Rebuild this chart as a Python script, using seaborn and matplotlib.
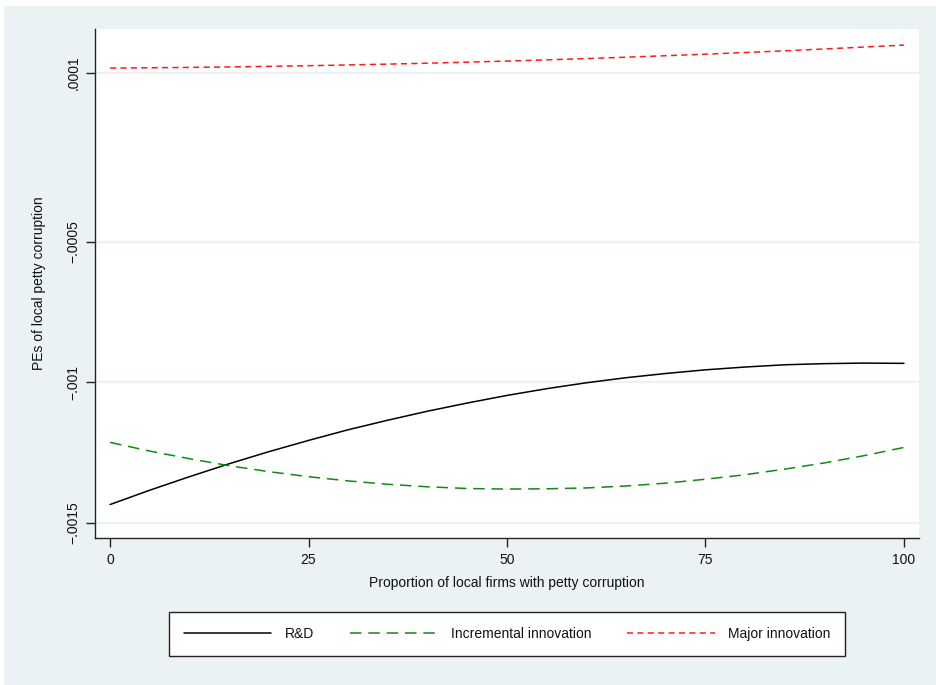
import matplotlib
matplotlib.use("Agg")
import matplotlib.pyplot as plt
import seaborn as sns
import pandas as pd
from matplotlib.patches import Rectangle

# Share of local firms with petty corruption (x axis)
share = [0, 5, 10, 15, 20, 25, 30, 35, 40, 45, 50,
         55, 60, 65, 70, 75, 80, 85, 90, 95, 100]

# Predicted effects of local petty corruption
rd = [-0.001434, -0.001383, -0.001335, -0.001289, -0.001246, -0.001206,
      -0.001168, -0.001134, -0.001102, -0.001073, -0.001046, -0.001022,
      -0.001001, -0.000983, -0.000968, -0.000955, -0.000945, -0.000937,
      -0.000933, -0.000931, -0.000932]
incremental = [-0.001213, -0.001244, -0.001271, -0.001296, -0.001317, -0.001335,
               -0.001350, -0.001362, -0.001371, -0.001377, -0.001379, -0.001378,
               -0.001375, -0.001368, -0.001358, -0.001344, -0.001328, -0.001308,
               -0.001286, -0.001260, -0.001231]
major = [0.0001180, 0.0001191, 0.0001204, 0.0001221, 0.0001242, 0.0001265,
         0.0001292, 0.0001321, 0.0001354, 0.0001391, 0.0001430, 0.0001473,
         0.0001518, 0.0001567, 0.0001620, 0.0001675, 0.0001734, 0.0001795,
         0.0001860, 0.0001929, 0.0001998]

series_names = ["R&D", "Incremental innovation", "Major innovation"]

x_ticks = [0, 25, 50, 75, 100]
y_ticks = [0.0001, -0.0005, -0.001, -0.0015]
y_tick_labels = [".0001", "\u2212.0005", "\u2212.001", "\u2212.0015"]

sns.set_theme(style="white")
plt.rcParams["font.family"] = ["Liberation Sans", "DejaVu Sans"]

bg = "#EAF2F3"
fig = plt.figure(figsize=(9.37, 6.85), dpi=100)
fig.patch.set_facecolor("white")
fig.patches.append(Rectangle((4 / 937, 0), 1 - 4 / 937, 1 - 6 / 685,
                             transform=fig.transFigure, facecolor=bg,
                             edgecolor="none", zorder=-10))

ax = fig.add_axes([95 / 937, 1 - 538 / 685, 824 / 937, 509 / 685])
ax.set_facecolor("white")

df = pd.DataFrame({"share": share, "rd": rd, "inc": incremental, "maj": major})

styles = [
    ("rd", "black", "-", series_names[0]),
    ("inc", "#108A10", (0, (7.5, 4.5)), series_names[1]),
    ("maj", "#FF1A1A", (0, (4, 2.8)), series_names[2]),
]
for col, color, ls, name in styles:
    sns.lineplot(data=df, x="share", y=col, ax=ax, color=color,
                 linestyle=ls, linewidth=1.1, label=name, legend=False)

ax.set_xlim(-1.9, 101.9)
ax.set_ylim(-0.001553, 0.000257)

ax.set_xticks(x_ticks)
ax.set_xticklabels([str(t) for t in x_ticks])
ax.set_yticks(y_ticks)
ax.set_yticklabels(y_tick_labels, rotation=90, va="center")

for t in y_ticks:
    ax.axhline(t, color=bg, linewidth=1.6, zorder=0)

for s in ["top", "right"]:
    ax.spines[s].set_visible(False)
for s in ["left", "bottom"]:
    ax.spines[s].set_color("#222222")
    ax.spines[s].set_linewidth(1.0)

ax.tick_params(axis="both", which="major", direction="out", length=6.5,
               width=1.0, color="#222222", labelsize=10, labelcolor="#111111",
               pad=4, left=True, bottom=True)

ax.set_xlabel("Proportion of local firms with petty corruption", fontsize=10,
              color="#111111", labelpad=7)
ax.set_ylabel("PEs of local petty corruption", fontsize=10, color="#111111",
              labelpad=15)

handles, labels = ax.get_legend_handles_labels()
leg = fig.legend(handles, labels, loc="center", ncol=3,
                 bbox_to_anchor=(507 / 937, 1 - 634 / 685),
                 fontsize=10, frameon=True, fancybox=False,
                 edgecolor="#222222", facecolor="white", framealpha=1,
                 handlelength=6.3, handletextpad=0.95, columnspacing=2.6,
                 borderpad=1.1, borderaxespad=0)
leg.get_frame().set_linewidth(1.0)
for t in leg.get_texts():
    t.set_color("#111111")

fig.savefig("out.png", dpi=100, facecolor=fig.get_facecolor())
